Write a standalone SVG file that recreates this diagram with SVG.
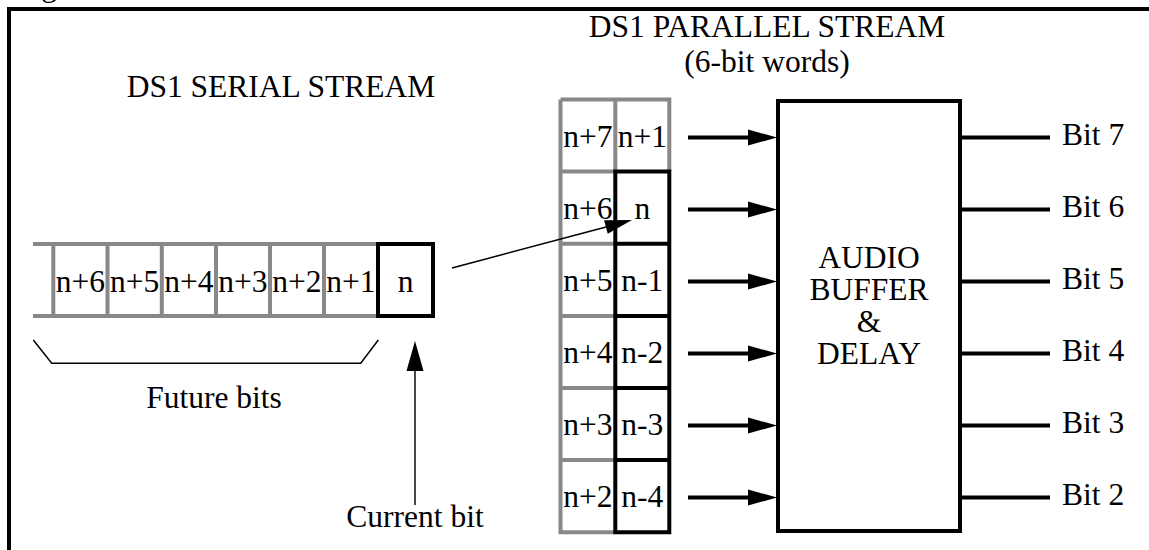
<svg xmlns="http://www.w3.org/2000/svg" xmlns:xlink="http://www.w3.org/1999/xlink" width="1149" height="550" viewBox="0 0 1149 550">
  <style>
    text { font-family: "Liberation Serif", "Times New Roman", serif; font-size: 31.5px; fill: #000; }
    .mid { text-anchor: middle; }
    .grid { fill: none; stroke: #888; stroke-width: 4; }
    .cell { fill: none; stroke: #000; stroke-width: 4; }
    .bus { stroke: #000; stroke-width: 4; fill: none; }
    .thin { stroke: #000; stroke-width: 1.5; fill: none; }
    .pointer { stroke: #333; stroke-width: 1.8; fill: none; }
    .head { fill: #000; stroke: none; }
  </style>
  <defs>
    <!-- arrowheads, tip at the origin, pointing along +x -->
    <path id="headBold" class="head" d="M-29,-8 L0,0 L-29,8 z"/>
    <path id="headThin" class="head" d="M-27,-7 L0,0 L-27,7 z"/>
  </defs>

  <rect x="0" y="0" width="1149" height="550" fill="#fff"/>

  <!-- caption and outer frame -->
  <text x="15" y="-4">Figure</text>
  <path d="M9,560 V9 H1160" fill="none" stroke="#000" stroke-width="4"/>

  <!-- serial bit stream -->
  <g id="serial-stream">
    <text class="mid" x="281" y="97">DS1 SERIAL STREAM</text>
    <path class="grid" d="M33,244 H378 M33,316 H378 M53.3,244 V316 M107.5,244 V316 M161.8,244 V316 M216,244 V316 M270,244 V316 M324,244 V316"/>
    <rect class="cell" x="378" y="244" width="55" height="72"/>
    <text class="mid" x="80.4" y="292">n+6</text>
    <text class="mid" x="134.6" y="292">n+5</text>
    <text class="mid" x="188.9" y="292">n+4</text>
    <text class="mid" x="243" y="292">n+3</text>
    <text class="mid" x="297" y="292">n+2</text>
    <text class="mid" x="351" y="292">n+1</text>
    <text class="mid" x="405.5" y="292">n</text>
  </g>

  <g id="future-bits">
    <path class="thin" d="M33.3,340 L51.7,363.3 H360.7 L378.3,340"/>
    <text class="mid" x="214" y="408">Future bits</text>
  </g>

  <g id="current-bit">
    <text class="mid" x="415" y="527">Current bit</text>
  </g>

  <!-- parallel word register -->
  <g id="parallel-stream">
    <text class="mid" x="767" y="37">DS1 PARALLEL STREAM</text>
    <text class="mid" x="767" y="72">(6-bit words)</text>
    <path class="grid" d="M560.5,99.5 H669.3 V171.6 M560.5,99.5 V532.2 H615.3 M615.3,99.5 V171.6 M560.5,171.6 H615.3 M560.5,243.8 H615.3 M560.5,315.9 H615.3 M560.5,388 H615.3 M560.5,460.1 H615.3"/>
    <path class="cell" d="M615.3,171.6 H669.3 V532.2 H615.3 Z M615.3,243.8 H669.3 M615.3,315.9 H669.3 M615.3,388 H669.3 M615.3,460.1 H669.3"/>
    <text class="mid" x="588" y="147">n+7</text>
    <text class="mid" x="642.3" y="147">n+1</text>
    <text class="mid" x="588" y="219">n+6</text>
    <text class="mid" x="642.3" y="219">n</text>
    <text class="mid" x="588" y="291">n+5</text>
    <text class="mid" x="642.3" y="291">n-1</text>
    <text class="mid" x="588" y="363">n+4</text>
    <text class="mid" x="642.3" y="363">n-2</text>
    <text class="mid" x="588" y="435">n+3</text>
    <text class="mid" x="642.3" y="435">n-3</text>
    <text class="mid" x="588" y="507">n+2</text>
    <text class="mid" x="642.3" y="507">n-4</text>
  </g>

  <g id="audio-buffer">
    <rect class="cell" x="778" y="101" width="182" height="430" fill="#fff"/>
    <text class="mid" x="869" y="268">AUDIO</text>
    <text class="mid" x="869" y="300">BUFFER</text>
    <text class="mid" x="869" y="332">&amp;</text>
    <text class="mid" x="869" y="364">DELAY</text>
  </g>

  <g id="outputs">
    <text x="1062" y="145">Bit 7</text>
    <text x="1062" y="217">Bit 6</text>
    <text x="1062" y="289">Bit 5</text>
    <text x="1062" y="361">Bit 4</text>
    <text x="1062" y="433">Bit 3</text>
    <text x="1062" y="505">Bit 2</text>
  </g>

  <!-- connectors -->
  <g id="connectors">
    <!-- serial bit n into the parallel word -->
    <path class="thin" d="M452,268 L606,227"/>
    <use xlink:href="#headThin" transform="translate(632,220) rotate(-14.93)"/>

    <!-- pointer to the current bit -->
    <path class="pointer" d="M415,505 V370"/>
    <path class="head" d="M406.5,371 L415,341 L423.5,371 z"/>

    <!-- word bits into the buffer -->
    <path class="bus" d="M688,137.5 H752 M688,209.5 H752 M688,281.5 H752 M688,353.5 H752 M688,425.5 H752 M688,497.5 H752"/>
    <use xlink:href="#headBold" transform="translate(777,137.5)"/>
    <use xlink:href="#headBold" transform="translate(777,209.5)"/>
    <use xlink:href="#headBold" transform="translate(777,281.5)"/>
    <use xlink:href="#headBold" transform="translate(777,353.5)"/>
    <use xlink:href="#headBold" transform="translate(777,425.5)"/>
    <use xlink:href="#headBold" transform="translate(777,497.5)"/>

    <!-- buffer outputs -->
    <path class="bus" d="M960,137.5 H1050 M960,209.5 H1050 M960,281.5 H1050 M960,353.5 H1050 M960,425.5 H1050 M960,497.5 H1050"/>
  </g>
</svg>
